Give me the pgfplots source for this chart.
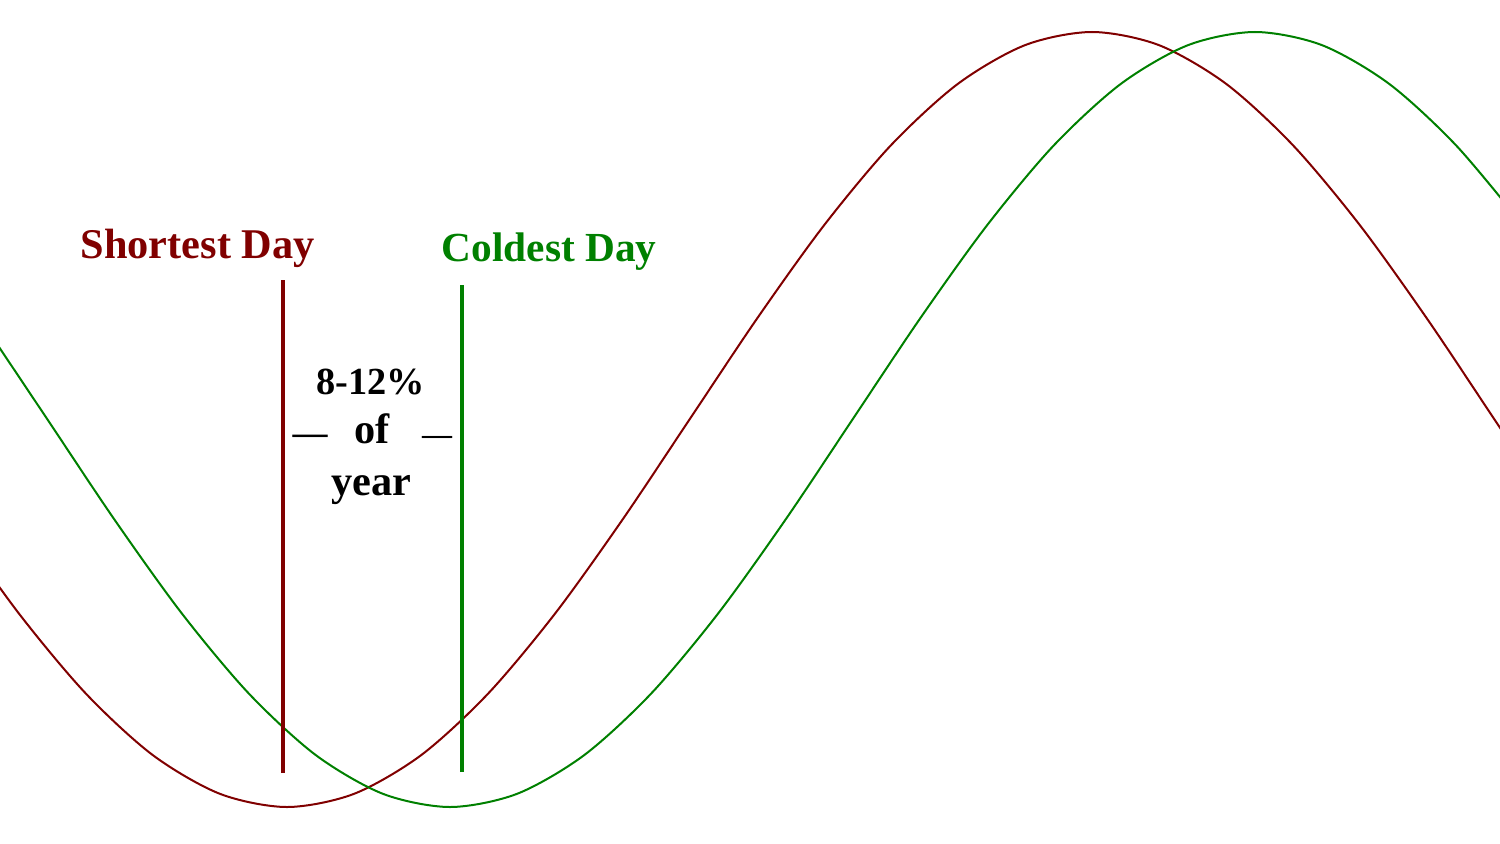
\documentclass[border=0pt]{standalone}
\usepackage{pgfplots}
\pgfplotsset{compat=1.18}
\usepackage{fontspec}
\setmainfont{Liberation Serif}
\definecolor{maroonc}{RGB}{128,0,0}
\definecolor{greenc}{RGB}{0,128,0}
\begin{document}
\begin{tikzpicture}
\begin{axis}[
  scale only axis, width=450pt, height=252.9pt,
  xmin=0, xmax=1500, ymin=0, ymax=843,
  hide axis, clip=true,
]
% frame of the picture (invisible)
\addplot[draw=none, forget plot] coordinates {(0,0) (1500,843)};
% shortest-day curve (maroon)
\addplot[maroonc, line width=0.6pt, smooth] coordinates {
(-48.4,323.2) (18.7,229.75) (85.8,149.5) (152.8,87.9) (219.9,49.2) (287,36)
(354.1,49.2) (421.2,87.9) (488.2,149.5) (555.3,229.75) (622.4,323.2) (689.5,423.5)
(756.6,523.8) (823.7,617.25) (890.7,697.5) (957.8,759.1) (1024.9,797.8) (1092.0,811)
(1159.1,797.8) (1226.2,759.1) (1293.2,697.5) (1360.3,617.25) (1427.4,523.8) (1494.5,423.5)
(1561.6,323.2)
};
% coldest-day curve (green)
\addplot[greenc, line width=0.6pt, smooth] coordinates {
(-19.6,523.8) (47.5,423.5) (114.6,323.2) (181.7,229.75) (248.8,149.5) (315.8,87.9)
(382.9,49.2) (450,36) (517.1,49.2) (584.2,87.9) (651.2,149.5) (718.3,229.75)
(785.4,323.2) (852.5,423.5) (919.6,523.8) (986.7,617.25) (1053.7,697.5) (1120.8,759.1)
(1187.9,797.8) (1255,811) (1322.1,797.8) (1389.2,759.1) (1456.2,697.5) (1523.3,617.25)
};
% vertical markers
\addplot[maroonc, line width=0.95pt] coordinates {(283,70) (283,563)};
\addplot[greenc, line width=0.95pt] coordinates {(462,71) (462,558)};
% labels
\node[anchor=base west, inner sep=0pt, text=maroonc, font=\fontsize{12.7}{15}\selectfont\bfseries] at (axis cs:80,585) {Shortest Day};
\node[anchor=base west, inner sep=0pt, text=greenc, font=\fontsize{12.4}{15}\selectfont\bfseries] at (axis cs:441,582) {Coldest Day};
\node[anchor=base, inner sep=0pt, font=\fontsize{11.5}{15}\selectfont\bfseries] at (axis cs:371,449) {8-12\%};
\node[anchor=base, inner sep=0pt, font=\fontsize{12.7}{15}\selectfont\bfseries] at (axis cs:372,400) {of};
\node[anchor=base, inner sep=0pt, font=\fontsize{12.7}{15}\selectfont\bfseries] at (axis cs:371,348) {year};
\node[anchor=base, inner sep=0pt, font=\fontsize{10.5}{15}\selectfont\bfseries] at (axis cs:310,399) {—};
\node[anchor=base, inner sep=0pt, font=\fontsize{9}{15}\selectfont\bfseries] at (axis cs:437,399) {—};
\end{axis}
\end{tikzpicture}
\end{document}
